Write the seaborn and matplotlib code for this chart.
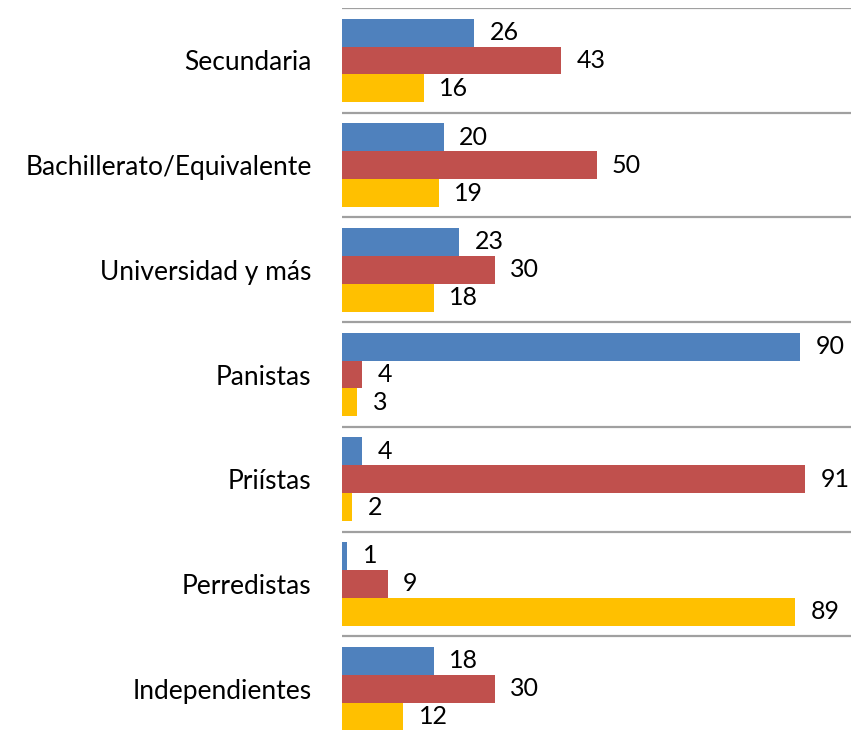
import seaborn as sns
import matplotlib.pyplot as plt
import pandas as pd

# Grouped horizontal bars: three series per category
categories = ["Secundaria", "Bachillerato/Equivalente", "Universidad y más",
              "Panistas", "Priístas", "Perredistas", "Independientes"]
series = ["Serie 1", "Serie 2", "Serie 3"]
serie1 = [26, 20, 23, 90, 4, 1, 18]
serie2 = [43, 50, 30, 4, 91, 9, 30]
serie3 = [16, 19, 18, 3, 2, 89, 12]

df = pd.DataFrame({
    "categoria": categories * 3,
    "serie": [series[0]] * 7 + [series[1]] * 7 + [series[2]] * 7,
    "valor": serie1 + serie2 + serie3,
})

sns.set_style("white")
plt.rcParams["font.family"] = ["Lato", "DejaVu Sans"]

fig = plt.figure(figsize=(8.64, 7.38), dpi=100)
ax = fig.add_axes([0.396, -0.004, 0.589, 0.993])

sns.barplot(data=df, y="categoria", x="valor", hue="serie", orient="h",
            palette=["#4F81BD", "#C0504D", "#FFC000"], width=0.8,
            saturation=1, linewidth=0, legend=False, ax=ax)

for cont in ax.containers:
    ax.bar_label(cont, padding=11, fontsize=18, color="black")

ax.set_xlim(0, 100)
ax.set_ylim(6.5, -0.5)

# separators between groups
for b in range(-1, 7):
    ax.axhline(b + 0.5, color="#a0a0a0", linewidth=1.6, zorder=0)

ax.set_xticks([])
ax.set_xlabel("")
ax.set_ylabel("")
ax.tick_params(axis="y", length=0, pad=22, labelsize=19, labelcolor="black")
sns.despine(ax=ax, left=True, bottom=True)

fig.savefig("out.png", dpi=100)
